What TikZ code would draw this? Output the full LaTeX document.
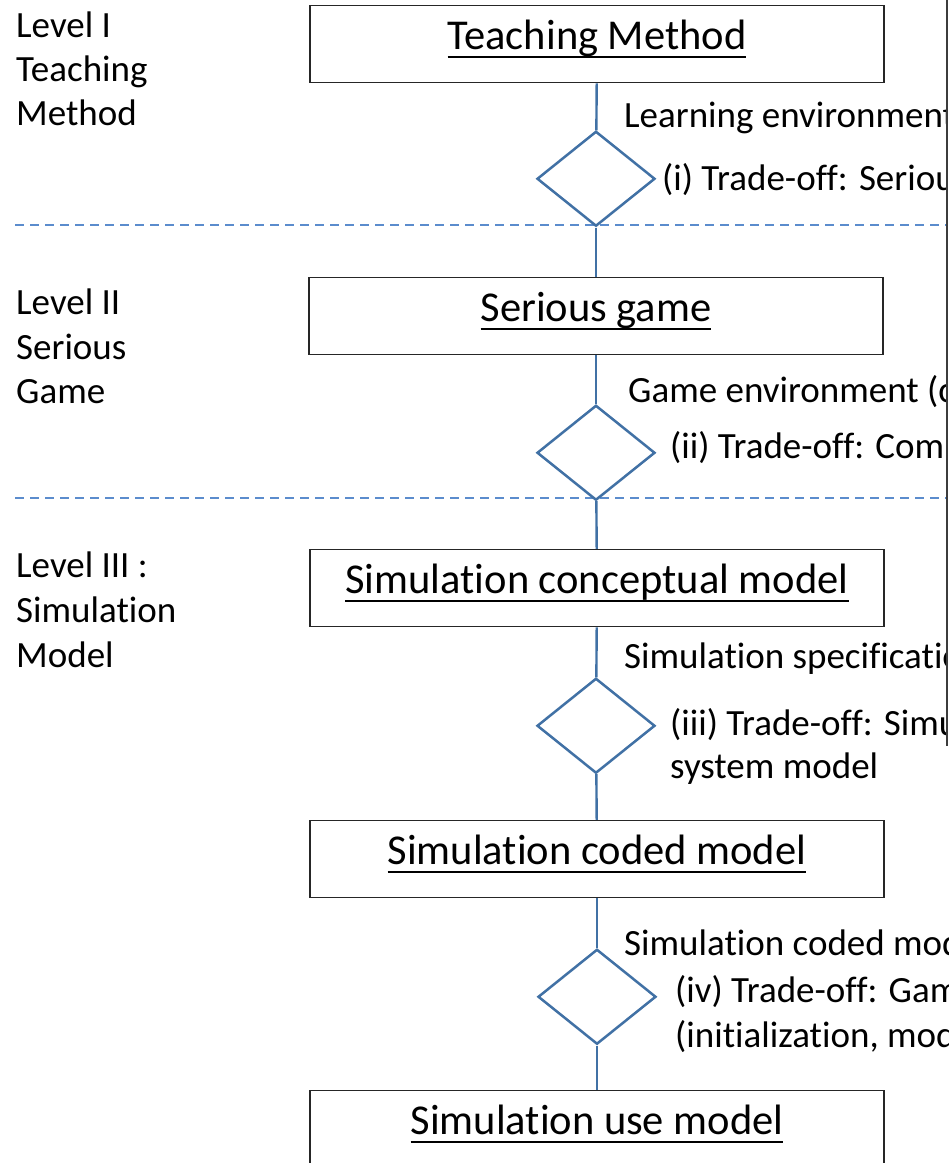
\documentclass[tikz,border=0pt]{standalone}
\usepackage{fontspec}
\setmainfont{Carlito}[Ligatures=NoCommon]
\usepackage{tikz}
\usetikzlibrary{shapes.geometric}
\definecolor{lineblue}{RGB}{65,113,165}
\definecolor{dashblue}{RGB}{91,140,205}
\definecolor{edgegray}{RGB}{60,60,60}
\newcommand{\titleline}[1]{\setbox0\hbox{#1}\rlap{\rule[-9pt]{\wd0}{2.6pt}}\box0}
\tikzstyle{stage}=[rectangle, draw=black!85, line width=1.3pt, fill=white, minimum width=574pt, minimum height=77pt, inner sep=0pt, text height=23pt, text depth=13pt, anchor=north, font=\fontsize{42.5}{50}\selectfont]
\tikzstyle{tradeoff}=[diamond, draw=lineblue, line width=2.5pt, fill=white, minimum width=118pt, minimum height=95pt, inner sep=0pt, anchor=north]
\tikzstyle{note}=[anchor=base west, inner sep=0pt, font=\fontsize{37}{44}\selectfont]
\tikzstyle{link}=[-, draw=lineblue, line width=2.4pt]
\tikzstyle{divider}=[draw=dashblue, line width=1.5pt, dash pattern=on 9pt off 6pt]
\pgfdeclarelayer{edgelayer}
\pgfdeclarelayer{nodelayer}
\pgfsetlayers{edgelayer,nodelayer,main}
\begin{document}
\begin{tikzpicture}[x=1pt, y=-1pt]
            \useasboundingbox (0,0) rectangle (949,1163);
            \begin{pgfonlayer}{nodelayer}
                \node [style=stage] (method) at (597, 5) {\titleline{Teaching Method}};
                \node [style=stage] (game) at (596, 277) {\titleline{Serious game}};
                \node [style=stage] (concept) at (597, 549) {\titleline{Simulation conceptual model}};
                \node [style=stage] (coded) at (597, 820) {\titleline{Simulation coded model}};
                \node [style=stage] (use) at (597, 1090) {\titleline{Simulation use model}};
                \node [style=tradeoff] (t1) at (596, 130) {};
                \node [style=tradeoff] (t2) at (596, 404) {};
                \node [style=tradeoff] (t3) at (596, 677) {};
                \node [style=tradeoff] (t4) at (597, 948) {};
                % level names
                \node [style=note] (lvl1a) at (16, 37) {Level I};
                \node [style=note] (lvl1b) at (16, 81) {Teaching};
                \node [style=note] (lvl1c) at (16, 125) {Method};
                \node [style=note] (lvl2a) at (16, 314) {Level II};
                \node [style=note] (lvl2b) at (16, 359) {Serious};
                \node [style=note] (lvl2c) at (16, 403) {Game};
                \node [style=note] (lvl3a) at (16, 577) {Level III :};
                \node [style=note] (lvl3b) at (16, 622) {Simulation};
                \node [style=note] (lvl3c) at (16, 667) {Model};
                % outputs and trade-offs
                \node [style=note] (out1) at (624, 127) {Learning environment};
                \node [style=note] (why1) at (662, 190) {(i) Trade-off: Serious};
                \node [style=note] (out2) at (628, 402) {Game environment (c};
                \node [style=note] (why2) at (670, 458) {(ii) Trade-off: Comp};
                \node [style=note] (out3) at (624, 668) {Simulation specificatio};
                \node [style=note] (why3) at (670, 735) {(iii) Trade-off: Simu};
                \node [style=note] (why3b) at (670, 778) {system model};
                \node [style=note] (out4) at (624, 955) {Simulation coded mod};
                \node [style=note] (why4) at (675, 1002) {(iv) Trade-off: Gam};
                \node [style=note] (why4b) at (675, 1047) {(initialization, mod};
            \end{pgfonlayer}
            \begin{pgfonlayer}{edgelayer}
                \draw [style=link] (method) to (t1);
                \draw [style=link] (t1) to (game);
                \draw [style=link] (game) to (t2);
                \draw [style=link] (t2) to (concept);
                \draw [style=link] (concept) to (t3);
                \draw [style=link] (t3) to (coded);
                \draw [style=link] (coded) to (t4);
                \draw [style=link] (t4) to (use);
                \draw [style=divider] (15, 225) -- (946, 225);
                \draw [style=divider] (15, 498) -- (946, 498);
            \end{pgfonlayer}
            % box cut off on the right
            \fill [white] (947, -2) rectangle (970, 746);
            \draw [edgegray, line width=1.2pt] (947, -2) -- (947, 746);
        \end{tikzpicture}
\end{document}
